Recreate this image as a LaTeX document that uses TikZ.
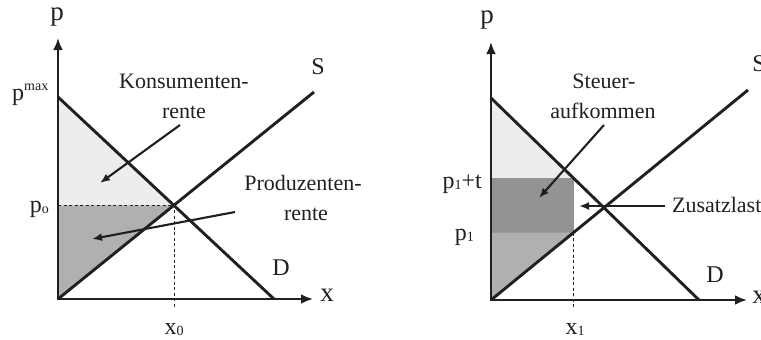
\documentclass[tikz,border=0pt]{standalone}
\usepackage{fontspec}
\setmainfont{Liberation Serif}
\usetikzlibrary{arrows.meta}
\definecolor{inkc}{HTML}{231F20}
\definecolor{lightfill}{HTML}{EDEDED}
\definecolor{midfill}{HTML}{B0B0B0}
\definecolor{darkfill}{HTML}{939393}
\newcommand{\lowsub}[1]{\raisebox{-1.5pt}{\fontsize{14}{14}\selectfont #1}}
\begin{document}
\begin{tikzpicture}[x=1pt,y=-1pt,
  curve/.style={line width=2.9pt, draw=inkc},
  axis/.style={line width=2.6pt, draw=inkc, -{Latex[length=12pt,width=10pt]}},
  pointer/.style={line width=2.1pt, draw=inkc, -{Latex[length=10pt,width=8pt]}},
  guide/.style={line width=0.8pt, draw=inkc, dash pattern=on 3pt off 2.5pt},
  axlbl/.style={font=\fontsize{27}{29}\selectfont, inner sep=0pt, text=inkc},
  crvlbl/.style={font=\fontsize{24}{26}\selectfont, inner sep=0pt, text=inkc},
  ticklbl/.style={font=\fontsize{24}{26}\selectfont, inner sep=0pt, text=inkc, anchor=base east},
  note/.style={font=\fontsize{22}{24}\selectfont, inner sep=0pt, text=inkc, anchor=base},
]
\useasboundingbox (0,0) rectangle (761,340);

% ---------------- left panel ----------------
\coordinate (O1) at (58,299);
\coordinate (Ytop1) at (58,38);
\coordinate (Xend1) at (313,299);
\coordinate (Dtop1) at (58,97);
\coordinate (Dbot1) at (274,299);
\coordinate (Send1) at (314,92);
\coordinate (E1) at (173.9,205.3);
\coordinate (P01) at (58,205.3);
\coordinate (X01) at (173.9,309);

\fill[lightfill] (Dtop1) -- (E1) -- (P01) -- cycle;
\fill[midfill] (P01) -- (E1) -- (O1) -- cycle;
\draw[guide] (P01) -- (E1) -- (X01);
\draw[curve] (Dtop1) -- (Dbot1);
\draw[curve] (O1) -- (Send1);
\draw[axis] (O1) -- (Xend1);
\draw[axis] ([yshift=-1.3pt]O1) -- (Ytop1);

\node[axlbl] (py1) at (57,17) {p};
\node[axlbl] (xx1) at (327,295) {x};
\node[crvlbl] (S1) at (318,67) {S};
\node[crvlbl] (D1) at (281,268) {D};
\node[ticklbl] (pmax) at (49,100) {p\textsuperscript{\fontsize{14}{14}\selectfont max}};
\node[ticklbl] (po) at (49,212) {p\lowsub{o}};
\node[note, font=\fontsize{24}{26}\selectfont] (x0) at (174,334) {x\lowsub{0}};

\node[note] (kons1) at (184,88) {Konsumenten-};
\node[note] (kons2) at (184,118) {rente};
\node[note] (prod1) at (303,190) {Produzenten-};
\node[note] (prod2) at (306,220) {rente};

\coordinate (ka) at (180,125);
\coordinate (kb) at (100,183);
\coordinate (pa) at (235,212);
\coordinate (pb) at (92,239);
\draw[pointer] (ka) -- (kb);
\draw[pointer] (pa) -- (pb);

% ---------------- right panel ----------------
\coordinate (O2) at (491,300);
\coordinate (Ytop2) at (491,42);
\coordinate (Xend2) at (747,300);
\coordinate (Dtop2) at (491,98);
\coordinate (Dbot2) at (699,300);
\coordinate (Send2) at (748,90);
\coordinate (Rtl) at (491,178.1);
\coordinate (Rtr) at (573.5,178.1);
\coordinate (Rbr) at (573.5,232.6);
\coordinate (Rbl) at (491,232.6);
\coordinate (X12) at (573.5,309);

\fill[lightfill] (Dtop2) -- (Rtr) -- (Rtl) -- cycle;
\fill[darkfill] (Rtl) rectangle (Rbr);
\fill[midfill] (Rbl) -- (Rbr) -- (O2) -- cycle;
\draw[guide] (Rbr) -- (X12);
\draw[curve] (Dtop2) -- (Dbot2);
\draw[curve] (O2) -- (Send2);
\draw[axis] (O2) -- (Xend2);
\draw[axis] ([yshift=-1.3pt]O2) -- (Ytop2);

\node[axlbl] (py2) at (487,20) {p};
\node[axlbl] (xx2) at (759,297) {x};
\node[crvlbl] (S2) at (759,64) {S};
\node[crvlbl] (D2) at (715,275) {D};
\node[ticklbl] (p1t) at (482,188) {p\lowsub{1}+t};
\node[ticklbl] (p1) at (474,240) {p\lowsub{1}};
\node[note, font=\fontsize{24}{26}\selectfont] (x1) at (575,334) {x\lowsub{1}};

\node[note] (st1) at (604,88) {Steuer-};
\node[note] (st2) at (603,118) {aufkommen};
\node[note, anchor=base west] (zus) at (672,212) {Zusatzlast};

\coordinate (sa) at (604,125);
\coordinate (sb) at (539,198);
\coordinate (za) at (665,206);
\coordinate (zb) at (579,206);
\draw[pointer] (sa) -- (sb);
\draw[pointer] (za) -- (zb);
\end{tikzpicture}
\end{document}
